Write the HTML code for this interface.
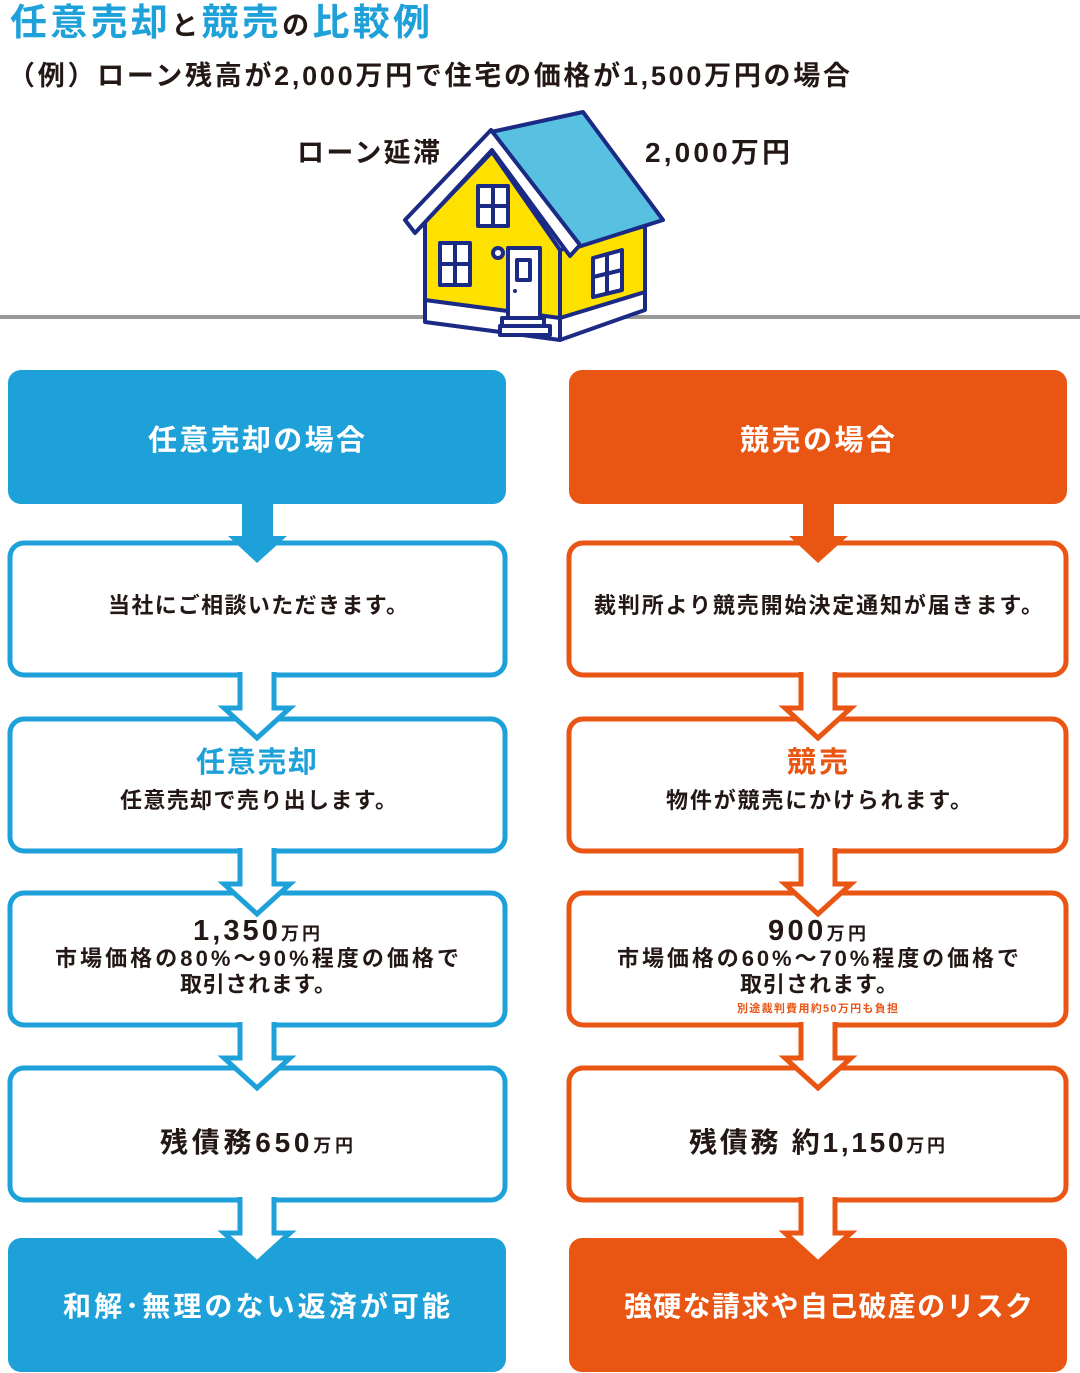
<!DOCTYPE html>
<html><head><meta charset="utf-8"><style>
html,body{margin:0;padding:0;background:#fff;}
svg{display:block;}
text{font-family:"Liberation Sans","Noto Sans CJK JP",sans-serif;}
</style></head><body>
<svg width="1080" height="1373" viewBox="0 0 1080 1373" xmlns="http://www.w3.org/2000/svg">
<defs>
<g id="arB">
<polygon points="-17,-3 -17,33 -33,33 0,63 33,33 17,33 17,-3" fill="#fff"/>
<polyline points="-17,-3 -17,33 -33,33 0,63 33,33 17,33 17,-3" fill="none" stroke="#1ea1d9" stroke-width="5" stroke-linejoin="miter"/>
</g>
<g id="arO">
<polygon points="-17,-3 -17,33 -33,33 0,63 33,33 17,33 17,-3" fill="#fff"/>
<polyline points="-17,-3 -17,33 -33,33 0,63 33,33 17,33 17,-3" fill="none" stroke="#e95513" stroke-width="5" stroke-linejoin="miter"/>
</g>
</defs>

<!-- Title -->
<text x="10" y="35" font-size="37" font-weight="bold" fill="#1ea1d9" textLength="420" lengthAdjust="spacing">任意売却<tspan fill="#231815" font-size="27">と</tspan>競売<tspan fill="#231815" font-size="27">の</tspan>比較例</text>
<text x="8" y="85" font-size="27" font-weight="bold" fill="#231815" textLength="842" lengthAdjust="spacing">（例）ローン残高が2,000万円で住宅の価格が1,500万円の場合</text>

<text x="297" y="162" font-size="27" font-weight="bold" fill="#231815" textLength="143" lengthAdjust="spacing">ローン延滞</text>
<text x="645" y="162" font-size="28" font-weight="bold" fill="#231815" textLength="145" lengthAdjust="spacing">2,000万円</text>

<!-- ground -->
<rect x="0" y="315" width="1080" height="4" fill="#999"/>

<!-- house -->
<g stroke="#1b2a84" stroke-width="4" stroke-linejoin="round">
<polygon points="425,222 492,152 560,250 560,332 425,312" fill="#ffe100"/>
<polygon points="560,250 645,226 645,300 560,332" fill="#ffe100"/>
<polygon points="425,300 560,318 560,340 425,322" fill="#fff"/>
<polygon points="560,318 645,292 645,310 560,340" fill="#fff"/>
<polygon points="491,132 583,112 663,220 578,247" fill="#58c1e2"/>
<polygon points="405,220 491,130 580,245 570,256 492,150 415,233" fill="#fff"/>
<rect x="478" y="186" width="30" height="40" fill="#fff"/>
<line x1="493" y1="186" x2="493" y2="226"/><line x1="478" y1="206" x2="508" y2="206"/>
<rect x="440" y="243" width="30" height="42" fill="#fff"/>
<line x1="455" y1="243" x2="455" y2="285"/><line x1="440" y1="264" x2="470" y2="264"/>
<polygon points="593,258 622,250 622,290 593,297" fill="#fff"/>
<line x1="607" y1="254" x2="607" y2="294"/><line x1="593" y1="277" x2="622" y2="270"/>
<rect x="508" y="248" width="32" height="70" fill="#fff"/>
<rect x="517" y="260" width="13" height="20" fill="#fff"/>
<circle cx="498" cy="253" r="5" fill="#fff"/>
<rect x="502" y="318" width="42" height="8" fill="#fff"/>
<rect x="500" y="326" width="50" height="9" fill="#fff"/>
</g>
<circle cx="515" cy="291" r="2" fill="#1b2a84"/>

<!-- Left column -->
<rect x="8" y="370" width="498" height="134" rx="13" fill="#1ea1d9"/>
<g fill="#fff" stroke="#1ea1d9" stroke-width="5">
<rect x="10" y="543" width="495" height="132" rx="14"/>
<rect x="10" y="719" width="495" height="132" rx="14"/>
<rect x="10" y="893" width="495" height="132" rx="14"/>
<rect x="10" y="1068" width="495" height="132" rx="14"/>
</g>
<rect x="8" y="1238" width="498" height="134" rx="13" fill="#1ea1d9"/>
<rect x="242" y="500" width="31" height="38" fill="#1ea1d9"/>
<polygon points="228,536 287,536 257,563" fill="#1ea1d9"/>
<use href="#arB" x="257" y="675"/>
<use href="#arB" x="257" y="851"/>
<use href="#arB" x="257" y="1025"/>
<use href="#arB" x="257" y="1200"/>

<g fill="#231815" font-weight="bold">
<text x="148" y="450" font-size="29" fill="#fff" textLength="217" lengthAdjust="spacing">任意売却の場合</text>
<text x="108" y="613" font-size="22" textLength="300" lengthAdjust="spacing">当社にご相談いただきます。</text>
<text x="196" y="772" font-size="29" fill="#1ea1d9" textLength="121" lengthAdjust="spacing">任意売却</text>
<text x="120" y="808" font-size="22" textLength="277" lengthAdjust="spacing">任意売却で売り出します。</text>
<text x="193" y="940" font-size="29" textLength="127" lengthAdjust="spacing">1,350<tspan font-size="18">万円</tspan></text>
<text x="55" y="966" font-size="22" textLength="404" lengthAdjust="spacing">市場価格の80%～90%程度の価格で</text>
<text x="180" y="992" font-size="22" textLength="156" lengthAdjust="spacing">取引されます。</text>
<text x="160" y="1152" font-size="28" textLength="193" lengthAdjust="spacing">残債務650<tspan font-size="18">万円</tspan></text>
<text x="63" y="1316" font-size="28" fill="#fff" textLength="387" lengthAdjust="spacing">和解･無理のない返済が可能</text>
</g>

<!-- Right column -->
<rect x="569" y="370" width="498" height="134" rx="13" fill="#e95513"/>
<g fill="#fff" stroke="#e95513" stroke-width="5">
<rect x="569" y="543" width="497" height="132" rx="14"/>
<rect x="569" y="719" width="497" height="132" rx="14"/>
<rect x="569" y="893" width="497" height="132" rx="14"/>
<rect x="569" y="1068" width="497" height="132" rx="14"/>
</g>
<rect x="569" y="1238" width="498" height="134" rx="13" fill="#e95513"/>
<rect x="803" y="500" width="31" height="38" fill="#e95513"/>
<polygon points="789,536 848,536 818,563" fill="#e95513"/>
<use href="#arO" x="818" y="675"/>
<use href="#arO" x="818" y="851"/>
<use href="#arO" x="818" y="1025"/>
<use href="#arO" x="818" y="1200"/>

<g fill="#231815" font-weight="bold">
<text x="740" y="450" font-size="29" fill="#fff" textLength="155" lengthAdjust="spacing">競売の場合</text>
<text x="594" y="613" font-size="22" textLength="449" lengthAdjust="spacing">裁判所より競売開始決定通知が届きます。</text>
<text x="787" y="772" font-size="29" fill="#e95513" textLength="61" lengthAdjust="spacing">競売</text>
<text x="666" y="808" font-size="22" textLength="306" lengthAdjust="spacing">物件が競売にかけられます。</text>
<text x="768" y="940" font-size="29" textLength="98" lengthAdjust="spacing">900<tspan font-size="18">万円</tspan></text>
<text x="617" y="966" font-size="22" textLength="402" lengthAdjust="spacing">市場価格の60%～70%程度の価格で</text>
<text x="740" y="992" font-size="22" textLength="158" lengthAdjust="spacing">取引されます。</text>
<text x="737" y="1012" font-size="11" fill="#e95513" textLength="161" lengthAdjust="spacing">別途裁判費用約50万円も負担</text>
<text x="689" y="1152" font-size="28" textLength="256" lengthAdjust="spacing">残債務 約1,150<tspan font-size="18">万円</tspan></text>
<text x="624" y="1316" font-size="28" fill="#fff" textLength="409" lengthAdjust="spacing">強硬な請求や自己破産のリスク</text>
</g>
</svg>
</body></html>
